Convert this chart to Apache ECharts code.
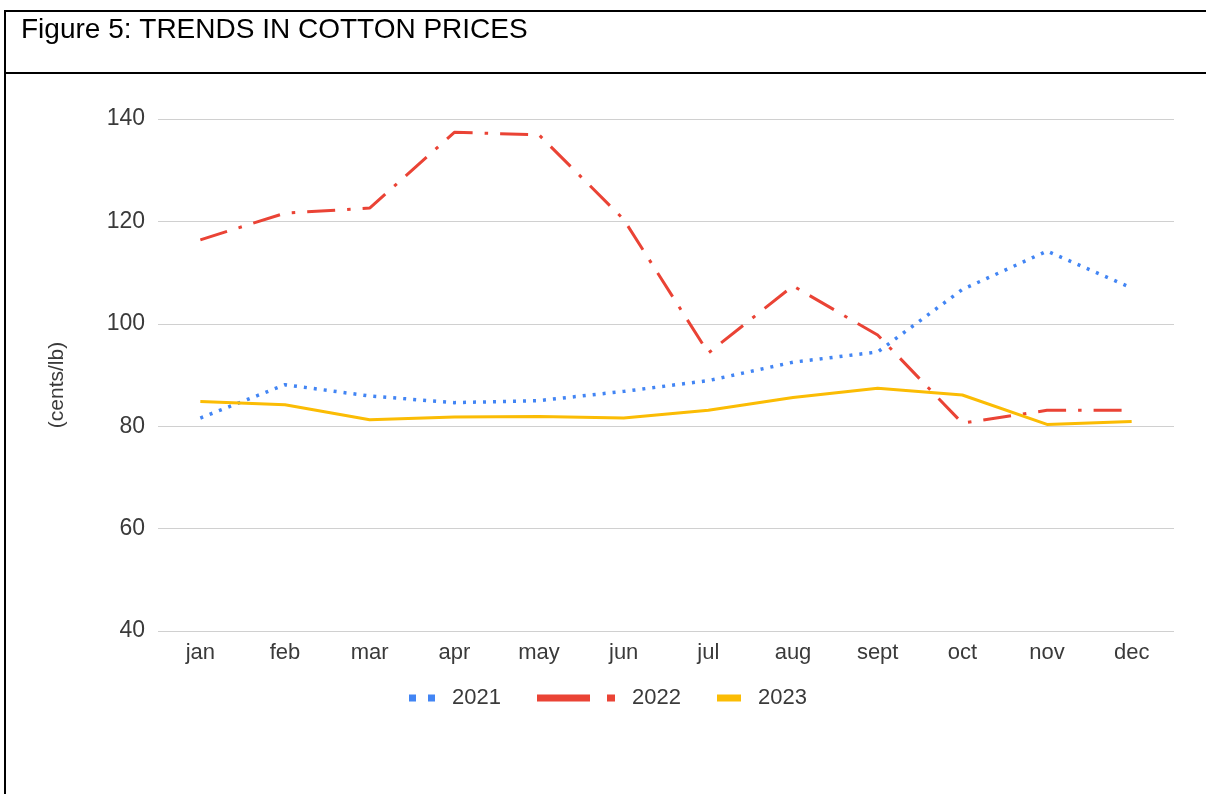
<!DOCTYPE html>
<html>
<head>
<meta charset="utf-8">
<script src="https://cdn.jsdelivr.net/npm/echarts@6/dist/echarts.min.js"></script>
<style>
  html, body { margin: 0; padding: 0; background: #fff; }
  #chart { width: 1206px; height: 794px; }
</style>
</head>
<body>
<div id="chart"></div>
<script>
const months = ['jan','feb','mar','apr','may','jun','jul','aug','sept','oct','nov','dec'];
const s2021 = [81.6, 88.1, 85.9, 84.6, 85.0, 86.8, 88.9, 92.5, 94.5, 106.7, 114.2, 107.0];
const s2022 = [116.4, 121.6, 122.6, 137.4, 136.9, 120.4, 94.3, 107.4, 97.8, 80.6, 83.1, 83.1];
const s2023 = [84.8, 84.2, 81.25, 81.8, 81.9, 81.6, 83.1, 85.6, 87.4, 86.1, 80.35, 80.9];
const seriesNames = ['2021', '2022', '2023'];
const yTicks = { min: 40, max: 140, interval: 20 };

const FONT = 'Liberation Sans, Arial, Helvetica, sans-serif';
const TXT = '#3a3a3a';

const chart = echarts.init(document.getElementById('chart'), null, { renderer: 'canvas' });

const legendText = { fontFamily: FONT, fontSize: 22, color: TXT, padding: [0, 0, 0, 12] };

chart.setOption({
  backgroundColor: '#fff',
  animation: false,
  title: {
    text: 'Figure 5: TRENDS IN COTTON PRICES',
    left: 16, top: 11,
    textStyle: { fontFamily: FONT, fontSize: 28, fontWeight: 'normal', color: '#000' }
  },
  graphic: [
    { type: 'line', shape: { x1: 4, y1: 11, x2: 1206, y2: 11 }, style: { stroke: '#000', lineWidth: 2 } },
    { type: 'line', shape: { x1: 4, y1: 73, x2: 1206, y2: 73 }, style: { stroke: '#000', lineWidth: 2 } },
    { type: 'line', shape: { x1: 5, y1: 10, x2: 5, y2: 794 }, style: { stroke: '#000', lineWidth: 2 } }
  ],
  legend: [
    {
      left: 409, top: 687, padding: 0, itemWidth: 26, itemHeight: 7,
      data: [{ name: seriesNames[0], icon: 'path://M0,0h7v7h-7z M19,0h7v7h-7z', itemStyle: { color: '#4285f4' } }],
      textStyle: legendText
    },
    {
      left: 537, top: 687, padding: 0, itemWidth: 78, itemHeight: 7,
      data: [{ name: seriesNames[1], icon: 'path://M0,0h53v7h-53z M70,0h8v7h-8z', itemStyle: { color: '#ea4335' } }],
      textStyle: legendText
    },
    {
      left: 717, top: 687, padding: 0, itemWidth: 24, itemHeight: 7,
      data: [{ name: seriesNames[2], icon: 'rect', itemStyle: { color: '#fbbc04' } }],
      textStyle: legendText
    }
  ],
  grid: { left: 158, right: 32, top: 119, bottom: 163, containLabel: false },
  xAxis: {
    type: 'category',
    data: months,
    boundaryGap: true,
    axisLine: { show: false },
    axisTick: { show: false },
    axisLabel: { fontFamily: FONT, fontSize: 22, color: TXT, margin: 11 }
  },
  yAxis: {
    type: 'value',
    min: yTicks.min, max: yTicks.max, interval: yTicks.interval,
    name: '(cents/lb)',
    nameLocation: 'middle',
    nameGap: 90,
    nameTextStyle: { fontFamily: FONT, fontSize: 21, color: TXT, padding: [0, 20, 0, 0] },
    axisLine: { show: false },
    axisTick: { show: false },
    axisLabel: { fontFamily: FONT, fontSize: 23, color: TXT, margin: 13 },
    splitLine: { lineStyle: { color: '#d0d0d0', width: 1 } }
  },
  series: [
    {
      name: seriesNames[0], type: 'line', data: s2021, symbol: 'none', smooth: false,
      itemStyle: { color: '#4285f4' },
      lineStyle: { color: '#4285f4', width: 3.5, type: [3, 7] }
    },
    {
      name: seriesNames[1], type: 'line', data: s2022, symbol: 'none', smooth: false,
      itemStyle: { color: '#ea4335' },
      lineStyle: { color: '#ea4335', width: 3, type: [28, 12, 3.5, 12] }
    },
    {
      name: seriesNames[2], type: 'line', data: s2023, symbol: 'none', smooth: false,
      itemStyle: { color: '#fbbc04' },
      lineStyle: { color: '#fbbc04', width: 3, type: 'solid' }
    }
  ]
});
</script>
</body>
</html>
